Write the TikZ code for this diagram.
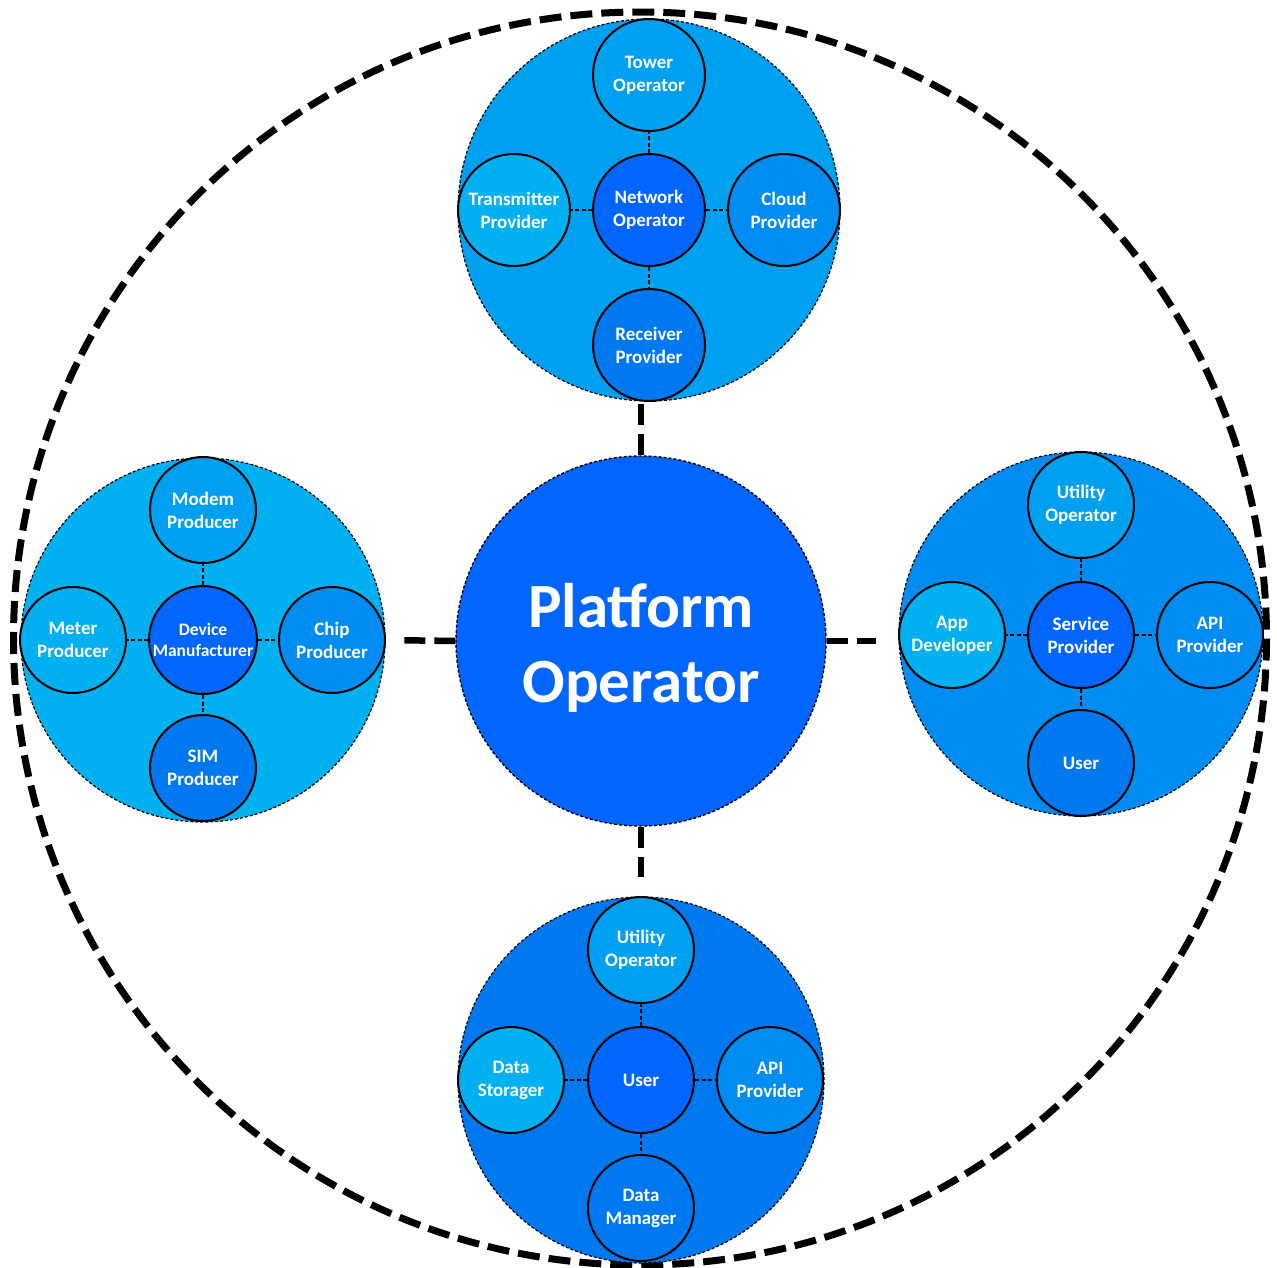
\documentclass[tikz,border=0pt]{standalone}
\usepackage{fontspec}
\setmainfont{Carlito}
\definecolor{cA}{HTML}{00B0F0}
\definecolor{cB}{HTML}{00A0F0}
\definecolor{cC}{HTML}{008CF0}
\definecolor{cD}{HTML}{0078F0}
\definecolor{cE}{HTML}{0066FF}
\tikzset{
  cluster/.style={circle, draw=black, line width=1.2pt, dash pattern=on 3pt off 2pt, inner sep=0pt},
  sat/.style={circle, draw=black, line width=2pt, inner sep=0pt, text=white, align=center,
    font=\fontsize{19}{23}\selectfont\bfseries},
  link/.style={draw=black, line width=1.6pt, dash pattern=on 4pt off 2.5pt},
  biglink/.style={draw=black, line width=6.5pt, dash pattern=on 21pt off 9pt},
}
\begin{document}
\begin{tikzpicture}[x=1pt,y=-1pt]
\useasboundingbox (0,0) rectangle (1277,1267);
\fill[white] (0,0) rectangle (1277,1267);
% outer dashed circle
\draw[line width=7pt, dash pattern=on 22pt off 9pt] (640,638.5) circle[radius=626.5];

% clusters
\node[cluster, fill=cB, minimum size=382pt] (topcl) at (649,210) {};
\node[cluster, fill=cA, minimum size=364pt] (leftcl) at (203,640) {};
\node[cluster, fill=cC, minimum size=364pt] (rightcl) at (1081,634) {};
\node[cluster, fill=cD, minimum size=366pt] (botcl) at (641,1080) {};

% central
\node[circle, draw=black, line width=1.4pt, dash pattern=on 3pt off 2pt, fill=cE,
  minimum size=370pt, inner sep=0pt, text=white, align=center,
  font=\fontsize{63}{75}\selectfont\bfseries] (po) at (641,641) {\rule{0pt}{57pt}Platform\\Operator};

% big connectors
\draw[biglink, shorten >=2pt] (po.north) -- (po.north |- topcl.south);
\draw[biglink, shorten >=18pt] (po.west) -- (leftcl.east);
\draw[biglink, shorten >=22pt] (po.east) -- (po.east -| rightcl.west);
\draw[biglink, shorten >=19pt] (po.south) -- (botcl.north);

% top cluster
\node[sat, fill=cE, minimum size=112pt] (t0) at (649,210) {Network\\Operator};
\node[sat, fill=cB, minimum size=112pt] (t1) at (649,75) {Tower\\Operator};
\node[sat, fill=cA, minimum size=112pt] (t2) at (514,210) {Transmitter\\Provider};
\node[sat, fill=cC, minimum size=112pt] (t3) at (784,210) {Cloud\\Provider};
\node[sat, fill=cD, minimum size=112pt] (t4) at (649,345) {Receiver\\Provider};
\foreach \n in {t1,t2,t3,t4} \draw[link] (t0) -- (\n);

% left cluster
\node[sat, fill=cE, minimum size=108pt, font=\fontsize{17.5}{21}\selectfont\bfseries] (l0) at (203,640) {Device\\Manufacturer};
\node[sat, fill=cB, minimum size=106pt] (l1) at (203,510) {Modem\\Producer};
\node[sat, fill=cA, minimum size=106pt] (l2) at (73,640) {Meter\\Producer};
\node[sat, fill=cC, minimum size=106pt] (l3) at (332,640) {Chip\\Producer};
\node[sat, fill=cD, minimum size=106pt] (l4) at (203,768) {SIM\\Producer};
\foreach \n in {l1,l2,l3,l4} \draw[link] (l0) -- (\n);

% right cluster
\node[sat, fill=cE, minimum size=106pt] (r0) at (1081,635) {Service\\Provider};
\node[sat, fill=cB, minimum size=106pt] (r1) at (1081,505) {Utility\\Operator};
\node[sat, fill=cA, minimum size=106pt] (r2) at (952,635) {App\\Developer};
\node[sat, fill=cC, minimum size=106pt] (r3) at (1210,635) {API\\Provider};
\node[sat, fill=cD, minimum size=106pt] (r4) at (1081,763) {User};
\foreach \n in {r1,r2,r3,r4} \draw[link] (r0) -- (\n);

% bottom cluster
\node[sat, fill=cE, minimum size=106pt] (b0) at (641,1080) {User};
\node[sat, fill=cB, minimum size=106pt] (b1) at (641,950) {Utility\\Operator};
\node[sat, fill=cA, minimum size=106pt] (b2) at (511,1080) {Data\\Storager};
\node[sat, fill=cC, minimum size=106pt] (b3) at (770,1080) {API\\Provider};
\node[sat, fill=cD, minimum size=106pt] (b4) at (641,1208) {Data\\Manager};
\foreach \n in {b1,b2,b3,b4} \draw[link] (b0) -- (\n);
\end{tikzpicture}
\end{document}
